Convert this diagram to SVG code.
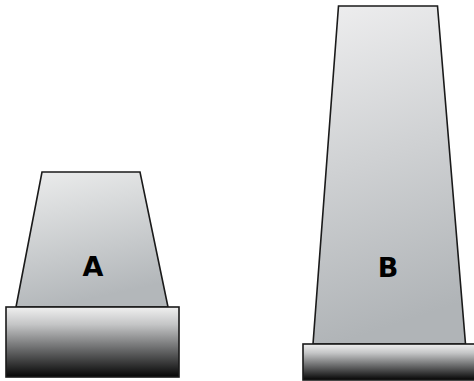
<svg xmlns="http://www.w3.org/2000/svg" width="474" height="381" viewBox="0 0 474 381">
<style>
.body{stroke:#1a1a1a;stroke-width:1.6;stroke-linejoin:miter}
.lbl{font-family:"DejaVu Sans","Liberation Sans",sans-serif;font-weight:bold;font-size:27px;fill:#000;text-anchor:middle}
</style>
<defs>
<linearGradient id="gA" x1="0" y1="0" x2="0.25" y2="1">
<stop offset="0" stop-color="#eceded"/>
<stop offset="1" stop-color="#b3b7ba"/>
</linearGradient>
<linearGradient id="gB" x1="0" y1="0" x2="0.15" y2="1">
<stop offset="0" stop-color="#eeeeef"/>
<stop offset="1" stop-color="#b0b4b7"/>
</linearGradient>
<linearGradient id="base" x1="0" y1="0" x2="0" y2="1">
<stop offset="0" stop-color="#f0f0f0"/>
<stop offset="0.25" stop-color="#c4c5c6"/>
<stop offset="0.6" stop-color="#6a6b6c"/>
<stop offset="1" stop-color="#050505"/>
</linearGradient>
</defs>
<g id="pierA">
<polygon class="body" points="42,172 140,172 168,307 16,307" fill="url(#gA)"/>
<rect class="body" x="6" y="307" width="173" height="70" fill="url(#base)"/>
<text class="lbl" x="93" y="276">A</text>
</g>
<g id="pierB">
<polygon class="body" points="338.5,6 437.5,6 465.5,344 313,344" fill="url(#gB)"/>
<rect class="body" x="303" y="344" width="172" height="36" fill="url(#base)"/>
<text class="lbl" x="388" y="277">B</text>
</g>
<g id="connectors"/>
</svg>
